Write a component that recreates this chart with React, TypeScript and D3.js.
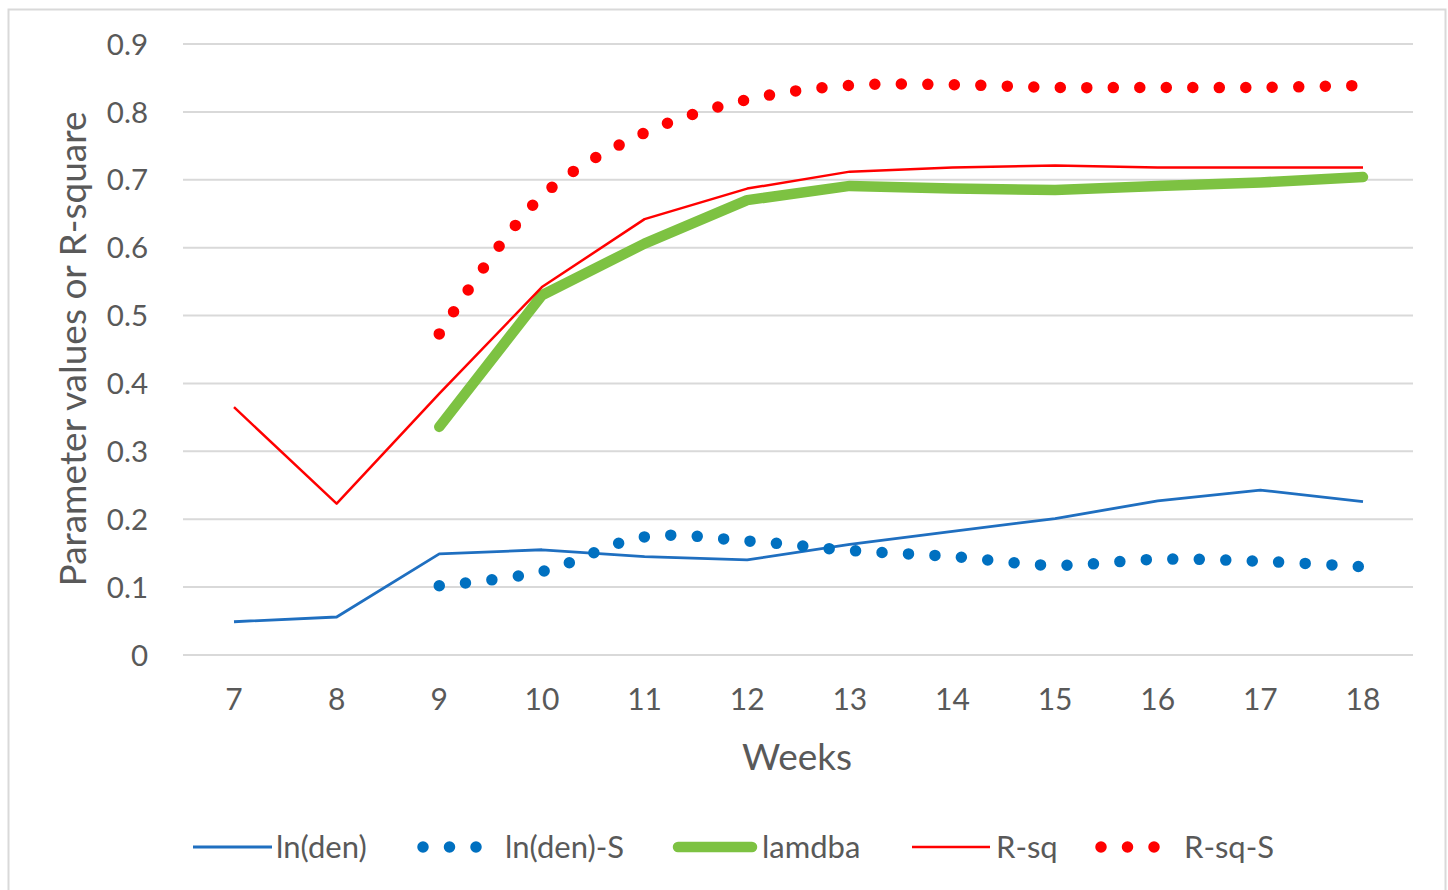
import React, { useEffect, useRef } from "react";
import * as d3 from "d3";

const weeks = [7, 8, 9, 10, 11, 12, 13, 14, 15, 16, 17, 18];
const yTicks = [0, 0.1, 0.2, 0.3, 0.4, 0.5, 0.6, 0.7, 0.8, 0.9];
const lnDen = [0.049, 0.056, 0.149, 0.155, 0.145, 0.14, 0.163, 0.182, 0.201, 0.227, 0.243, 0.226];
const lnDenS = [null, null, 0.102, 0.123, 0.174, 0.168, 0.154, 0.145, 0.132, 0.141, 0.138, 0.13];
const lamdba = [null, null, 0.336, 0.53, 0.606, 0.67, 0.691, 0.687, 0.685, 0.691, 0.696, 0.704];
const rSq = [0.365, 0.223, 0.385, 0.542, 0.642, 0.687, 0.712, 0.718, 0.721, 0.718, 0.718, 0.718];
const rSqS = [null, null, 0.473, 0.676, 0.769, 0.818, 0.839, 0.84, 0.836, 0.836, 0.836, 0.839];
const legendLabels = ["ln(den)", "ln(den)-S", "lamdba", "R-sq", "R-sq-S"];

const W = 1448;
const H = 890;
const FONT = "Lato, 'Open Sans', sans-serif";

export default function App() {
  const ref = useRef<SVGSVGElement | null>(null);

  useEffect(() => {
    document.body.style.margin = "0";
    const svg = d3.select(ref.current);
    svg.selectAll("*").remove();

    const x = d3.scalePoint<number>().domain(weeks).range([234, 1363]);
    const y = d3.scaleLinear().domain([0, 0.9]).range([655, 44]);

    svg.append("rect").attr("x", 0).attr("y", 0).attr("width", W).attr("height", H).attr("fill", "#fff");
    svg.append("rect").attr("x", 8.5).attr("y", 9.5).attr("width", 1437).attr("height", 900)
      .attr("fill", "none").attr("stroke", "#d9d9d9").attr("stroke-width", 2);

    // gridlines
    svg.append("g").selectAll("line").data(yTicks).join("line")
      .attr("x1", 183).attr("x2", 1413)
      .attr("y1", (d) => y(d)).attr("y2", (d) => y(d))
      .attr("stroke", "#d9d9d9").attr("stroke-width", 2);

    // y tick labels
    svg.append("g").selectAll("text").data(yTicks).join("text")
      .attr("x", 148).attr("y", (d) => y(d)).attr("dy", "0.36em")
      .attr("text-anchor", "end").attr("font-family", FONT).attr("font-size", 29.5)
      .attr("fill", "#595959").text((d) => (d === 0 ? "0" : d3.format(".1f")(d)));

    // x tick labels
    svg.append("g").selectAll("text").data(weeks).join("text")
      .attr("x", (d) => x(d)!).attr("y", 699).attr("dy", "0.36em")
      .attr("text-anchor", "middle").attr("font-family", FONT).attr("font-size", 30)
      .attr("fill", "#595959").text((d) => String(d));

    // axis titles
    svg.append("text").attr("x", 797).attr("y", 757).attr("dy", "0.36em")
      .attr("text-anchor", "middle").attr("font-family", FONT).attr("font-size", 37)
      .attr("fill", "#595959").text("Weeks");
    svg.append("text").attr("transform", "translate(73,349) rotate(-90)").attr("dy", "0.36em")
      .attr("text-anchor", "middle").attr("font-family", FONT).attr("font-size", 37)
      .attr("fill", "#595959").text("Parameter values or R-square");

    const mk = (vals: (number | null)[]) =>
      weeks.map((w, i) => ({ w, v: vals[i] })).filter((d) => d.v !== null) as { w: number; v: number }[];

    const lin = d3.line<{ w: number; v: number }>().x((d) => x(d.w)!).y((d) => y(d.v));
    const smooth = d3.line<{ w: number; v: number }>().x((d) => x(d.w)!).y((d) => y(d.v))
      .curve(d3.curveCatmullRom.alpha(0.5));

    const plot = svg.append("g");
    plot.append("path").attr("d", lin(mk(lnDen))).attr("fill", "none")
      .attr("stroke", "#1f6fc0").attr("stroke-width", 2.8).attr("stroke-linejoin", "round");
    plot.append("path").attr("d", smooth(mk(lnDenS))).attr("fill", "none")
      .attr("stroke", "#0070c0").attr("stroke-width", 11.5).attr("stroke-linecap", "round")
      .attr("stroke-dasharray", "0 26.5");
    plot.append("path").attr("d", lin(mk(lamdba))).attr("fill", "none")
      .attr("stroke", "#7dc242").attr("stroke-width", 10.5).attr("stroke-linecap", "round")
      .attr("stroke-linejoin", "round");
    plot.append("path").attr("d", lin(mk(rSq))).attr("fill", "none")
      .attr("stroke", "#ff0000").attr("stroke-width", 2.5).attr("stroke-linejoin", "round");
    plot.append("path").attr("d", smooth(mk(rSqS))).attr("fill", "none")
      .attr("stroke", "#ff0000").attr("stroke-width", 11.5).attr("stroke-linecap", "round")
      .attr("stroke-dasharray", "0 26.5");

    // legend
    const ly = 847;
    const lg = svg.append("g");
    const styles = [
      { color: "#1f6fc0", type: "line", w: 2.8, x1: 193, x2: 272, tx: 276 },
      { color: "#0070c0", type: "dots", w: 11.5, x1: 423, x2: 478, tx: 505 },
      { color: "#7dc242", type: "line", w: 10.5, x1: 678, x2: 752, tx: 762, cap: "round" },
      { color: "#ff0000", type: "line", w: 2.5, x1: 912, x2: 990, tx: 996 },
      { color: "#ff0000", type: "dots", w: 11.5, x1: 1101, x2: 1156, tx: 1184 },
    ];
    styles.forEach((s, i) => {
      const l = lg.append("line").attr("x1", s.x1).attr("x2", s.x2).attr("y1", ly).attr("y2", ly)
        .attr("stroke", s.color).attr("stroke-width", s.w);
      if (s.type === "dots") l.attr("stroke-linecap", "round").attr("stroke-dasharray", "0 26.5");
      if (s.cap) l.attr("stroke-linecap", s.cap);
      lg.append("text").attr("x", s.tx).attr("y", ly).attr("dy", "0.36em")
        .attr("font-family", FONT).attr("font-size", 31).attr("fill", "#595959").text(legendLabels[i]);
    });
  }, []);

  return <svg ref={ref} width={W} height={H} style={{ display: "block" }} />;
}
